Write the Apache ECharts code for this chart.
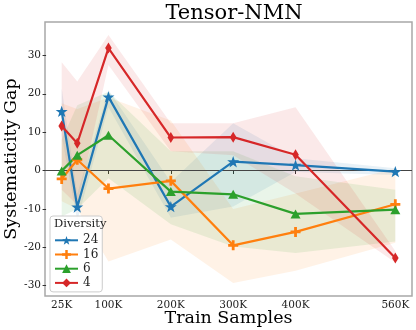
<!DOCTYPE html>
<html><head><meta charset="utf-8">
<script src="https://cdn.jsdelivr.net/npm/echarts@6/dist/echarts.min.js"></script>
<style>html,body{margin:0;padding:0;background:#fff}#c{width:416px;height:330px}</style>
</head><body><div id="c"></div>
<script>
// ---- data ----
const samplesK = [25, 50, 100, 200, 300, 400, 560];
const xTickValues = [25, 100, 200, 300, 400, 560];
const yTickValues = [-30, -20, -10, 0, 10, 20, 30];
const diversityNames = ['24', '16', '6', '4'];
const gap24 = [15.4, -9.5, 19.2, -9.4, 2.3, 1.4, -0.3];
const gap16 = [-2.2, 2.8, -4.7, -2.7, -19.5, -16.0, -8.8];
const gap6  = [-0.1, 4.0, 9.2, -5.5, -6.2, -11.3, -10.2];
const gap4  = [11.6, 7.1, 31.9, 8.6, 8.7, 4.1, -22.8];
const lo24 = [9.0, -13.0, 16.5, -12.3, -9.4, -0.4, -1.2];
const hi24 = [21.5, -6.0, 21.0, -3.0, 12.3, 3.2, 0.6];
const lo16 = [-8.0, -10.0, -23.7, -18.0, -29.3, -26.1, -18.8];
const hi16 = [17.5, 16.0, 19.0, 13.0, -10.0, -6.0, 0.5];
const lo6  = [-12.0, -10.0, -2.0, -14.0, -19.8, -21.5, -18.5];
const hi6  = [8.0, 17.0, 20.5, 5.0, 5.0, -1.5, -5.0];
const lo4  = [-5.0, -9.0, 27.5, 5.0, 4.0, -6.0, -24.0];
const hi4  = [28.2, 23.2, 35.3, 12.3, 12.3, 16.5, -21.0];

const SERIF = 'DejaVu Serif';
const STAR = 'path://M50 0 L61.76 33.82 L97.55 34.55 L69.02 56.18 L79.39 90.45 L50 70 L20.61 90.45 L30.98 56.18 L2.45 34.55 L38.24 33.82 Z';
const PLUS = 'path://M36 0 H64 V36 H100 V64 H64 V100 H36 V64 H0 V36 H36 Z';
const TRI = 'path://M50 0 L100 90 L0 90 Z';
const THIN_DIAMOND = 'path://M50 0 L80 50 L50 100 L20 50 Z';

function bandSeries(lo, hi, color) {
  return {
    type: 'custom', silent: true, z: 1, clip: true,
    data: samplesK.map((x, i) => [x, lo[i], hi[i]]),
    encode: { x: 0, y: [1, 2] },
    renderItem: (params, api) => {
      if (params.dataIndex !== 0) return { type: 'group', children: [] };
      const pts = [];
      for (let i = 0; i < samplesK.length; i++) pts.push(api.coord([samplesK[i], hi[i]]));
      for (let i = samplesK.length - 1; i >= 0; i--) pts.push(api.coord([samplesK[i], lo[i]]));
      return { type: 'polygon', shape: { points: pts }, style: { fill: color } };
    }
  };
}
function lineSeries(name, vals, color, symbol, size) {
  return {
    name: name, type: 'line', z: 5,
    data: samplesK.map((x, i) => [x, vals[i]]),
    symbol: symbol, symbolSize: size, symbolKeepAspect: true,
    lineStyle: { color: color, width: 2.2 },
    itemStyle: { color: color },
    emphasis: { disabled: true }
  };
}

const chart = echarts.init(document.getElementById('c'), null, { renderer: 'canvas' });
const s24 = lineSeries(diversityNames[0], gap24, '#1f77b4', STAR, 12);
s24.markLine = {
  silent: true, symbol: 'none', label: { show: false },
  lineStyle: { color: '#444', width: 1, type: 'solid' },
  data: [{ yAxis: 0 }], z: 2
};
chart.setOption({
  animation: false,
  title: {
    text: 'Tensor-NMN', left: 229, top: -2, textAlign: 'center',
    textStyle: { fontFamily: SERIF, fontSize: 21, fontWeight: 'normal', color: '#000' }
  },
  grid: { left: 45, right: 4, top: 22, bottom: 34, show: true, borderColor: '#a8a8a8', borderWidth: 1.5, containLabel: false, outerBoundsMode: 'none' },
  xAxis: {
    type: 'value', min: -1.75, max: 586.75,
    name: 'Train Samples', nameLocation: 'middle', nameGap: 13, nameMoveOverlap: false,
    nameTextStyle: { fontFamily: SERIF, fontSize: 17.5, color: '#000' },
    axisLine: { show: false },
    axisTick: { show: true, customValues: xTickValues, length: 3.5, lineStyle: { color: '#333' } },
    axisLabel: { customValues: xTickValues, formatter: v => v + 'K', fontFamily: SERIF, fontSize: 10.5, color: '#222', margin: 4 },
    splitLine: { show: false }
  },
  yAxis: {
    type: 'value', min: -32.7, max: 38.7,
    name: 'Systematicity Gap', nameLocation: 'middle', nameGap: 25, nameMoveOverlap: false,
    nameTextStyle: { fontFamily: SERIF, fontSize: 17.5, color: '#000' },
    axisLine: { show: false },
    axisTick: { show: true, customValues: yTickValues, length: 3.5, lineStyle: { color: '#333' } },
    axisLabel: { customValues: yTickValues, fontFamily: SERIF, fontSize: 10.5, color: '#222', margin: 4 },
    splitLine: { show: false }
  },
  legend: {
    orient: 'vertical', left: 50, top: 216,
    data: diversityNames,
    itemWidth: 23, itemHeight: 11, itemGap: 2.2,
    padding: [18.3, 4, 3, 4],
    borderColor: '#cccccc', borderWidth: 1, borderRadius: 3,
    backgroundColor: 'rgba(255,255,255,0.85)',
    textStyle: { fontFamily: SERIF, fontSize: 12, lineHeight: 11, color: '#222' }
  },
  graphic: [{
    type: 'text', left: 54, top: 218, z: 100,
    style: { text: 'Diversity', font: '11.5px "DejaVu Serif"', fill: '#222' }
  }],
  series: [
    bandSeries(lo24, hi24, 'rgba(31,119,180,0.1)'),
    bandSeries(lo16, hi16, 'rgba(255,127,14,0.1)'),
    bandSeries(lo6, hi6, 'rgba(44,160,44,0.1)'),
    bandSeries(lo4, hi4, 'rgba(214,39,40,0.1)'),
    s24,
    lineSeries(diversityNames[1], gap16, '#ff7f0e', PLUS, 10),
    lineSeries(diversityNames[2], gap6, '#2ca02c', TRI, 10),
    lineSeries(diversityNames[3], gap4, '#d62728', THIN_DIAMOND, 11)
  ]
});
</script></body></html>
